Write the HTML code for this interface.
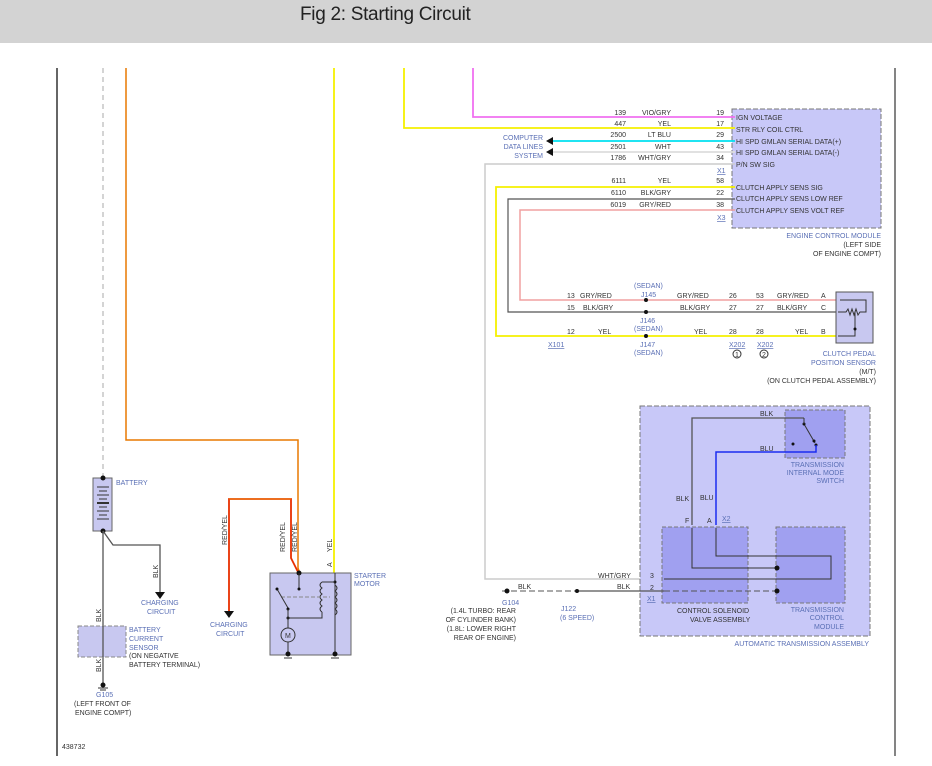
<!DOCTYPE html>
<html><head><meta charset="utf-8"><style>
body{margin:0;width:932px;height:766px;background:#fff;overflow:hidden;font-family:"Liberation Sans",sans-serif}
.hdr{position:absolute;left:0;top:0;width:932px;height:43px;background:#d3d3d3}
.hdr span{position:absolute;left:300px;top:4px;font-size:19px;color:#222;font-family:"Liberation Sans",sans-serif;letter-spacing:-0.3px}
svg{position:absolute;left:0;top:0}
text{font-family:"Liberation Sans",sans-serif;font-size:7px;fill:#333}
.b{fill:#5a6fb5}
</style></head><body>
<div class="hdr"><span>Fig 2: Starting Circuit</span></div>
<svg width="932" height="766" viewBox="0 0 932 766">
<line x1="57" y1="68" x2="57" y2="756" stroke="#000" stroke-width="1.2"/>
<line x1="895" y1="68" x2="895" y2="756" stroke="#333" stroke-width="1.2"/>
<text x="62" y="749" font-size="6.5">438732</text>

<line x1="103" y1="68" x2="103" y2="478" stroke="#aaa" stroke-dasharray="5,4"/>
<polyline points="126,68 126,440 298,440 298,568 300,574" fill="none" stroke="#e87800" stroke-width="1.5"/>
<polyline points="229,611 229,499 291,499 291,558 299,574" fill="none" stroke="#e83000" stroke-width="1.8"/>
<polyline points="229,499 291,499" fill="none" stroke="#f0c000" stroke-width="0.6"/>
<line x1="334" y1="68" x2="334" y2="574" stroke="#f5f000" stroke-width="1.8"/>
<text transform="translate(227,545) rotate(-90)">RED/YEL</text>
<text transform="translate(285,552) rotate(-90)">RED/YEL</text>
<text transform="translate(297,552) rotate(-90)">RED/YEL</text>
<text transform="translate(332,552) rotate(-90)">YEL</text>
<text transform="translate(332,567) rotate(-90)" font-size="6">A</text>
<polygon points="224,611 234,611 229,618" fill="#111"/>
<text x="210" y="627" class="b">CHARGING</text>
<text x="216" y="636" class="b">CIRCUIT</text>

<rect x="93" y="478" width="19" height="53" fill="#c8c8f0" stroke="#666"/>
<circle cx="103" cy="478" r="2.5" fill="#111"/><circle cx="103" cy="531" r="2.5" fill="#111"/>
<g stroke="#333"><line x1="97" y1="487" x2="109" y2="487"/><line x1="99" y1="491" x2="107" y2="491"/><line x1="97" y1="495" x2="109" y2="495"/><line x1="99" y1="499" x2="107" y2="499"/><line x1="97" y1="503" x2="109" y2="503" stroke-width="2"/><line x1="99" y1="507" x2="107" y2="507"/><line x1="97" y1="511" x2="109" y2="511"/><line x1="99" y1="515" x2="107" y2="515"/><line x1="97" y1="519" x2="109" y2="519"/></g>
<text x="116" y="485" class="b">BATTERY</text>
<polyline points="103,531 113,545 160,545 160,592" fill="none" stroke="#555" stroke-width="1.3"/>
<polygon points="155,592 165,592 160,599" fill="#111"/>
<text transform="translate(158,578) rotate(-90)">BLK</text>
<text x="141" y="605" class="b">CHARGING</text>
<text x="147" y="614" class="b">CIRCUIT</text>
<line x1="103" y1="531" x2="103" y2="685" stroke="#555" stroke-width="1.3"/>
<rect x="78" y="626" width="48" height="31" fill="#c8c8f0" stroke="#888" stroke-dasharray="4,2"/>
<line x1="103" y1="626" x2="103" y2="657" stroke="#555" stroke-width="1.3"/>
<text transform="translate(101,622) rotate(-90)">BLK</text>
<text transform="translate(101,672) rotate(-90)">BLK</text>
<text x="129" y="632" class="b">BATTERY</text><text x="129" y="641" class="b">CURRENT</text><text x="129" y="650" class="b">SENSOR</text>
<text x="129" y="658">(ON NEGATIVE</text><text x="129" y="667">BATTERY TERMINAL)</text>
<circle cx="103" cy="685" r="2.5" fill="#111"/><line x1="98" y1="688" x2="108" y2="688" stroke="#333"/><line x1="100" y1="690" x2="106" y2="690" stroke="#333"/>
<text x="96" y="697" class="b">G105</text>
<text x="74" y="706">(LEFT FRONT OF</text><text x="75" y="715">ENGINE COMPT)</text>

<rect x="270" y="573" width="81" height="82" fill="#c8c8f0" stroke="#666"/>
<circle cx="299" cy="573" r="2.5" fill="#111"/>
<line x1="299" y1="573" x2="299" y2="589" stroke="#333"/><circle cx="299" cy="589" r="1.5" fill="#111"/>
<line x1="335" y1="573" x2="335" y2="655" stroke="#333"/><circle cx="335" cy="582" r="1.5" fill="#111"/>
<path d="M335,585 q4,3 0,6 q4,3 0,6 q4,3 0,6 q4,3 0,6 q4,3 0,6" fill="none" stroke="#333"/>
<path d="M322,582 q-4,3 0,6 q-4,3 0,6 q-4,3 0,6 q-4,3 0,6 q-4,3 0,6" fill="none" stroke="#333"/>
<polyline points="322,582 335,582" fill="none" stroke="#333"/>
<polyline points="322,612 322,618 288,618" fill="none" stroke="#333"/>
<line x1="281" y1="597" x2="330" y2="597" stroke="#888" stroke-dasharray="4,2"/>
<line x1="277" y1="589" x2="288" y2="608" stroke="#333"/><circle cx="277" cy="589" r="1.5" fill="#111"/>
<circle cx="288" cy="609" r="1.5" fill="#111"/><circle cx="288" cy="618" r="1.5" fill="#111"/>
<line x1="288" y1="609" x2="288" y2="654" stroke="#333"/>
<circle cx="288" cy="635" r="7" fill="#c8c8f0" stroke="#333"/><text x="285" y="638" font-size="8">M</text>
<circle cx="288" cy="654" r="2.5" fill="#111"/><circle cx="335" cy="654" r="2.5" fill="#111"/>
<line x1="284" y1="658" x2="292" y2="658" stroke="#333"/><line x1="331" y1="658" x2="339" y2="658" stroke="#333"/>
<text x="354" y="578" class="b">STARTER</text><text x="354" y="586" class="b">MOTOR</text>

<rect x="732" y="109" width="149" height="119" fill="#c8c8f8" stroke="#777" stroke-dasharray="5,2"/>
<polyline points="473,68 473,117 735,117" fill="none" stroke="#f070f0" stroke-width="1.8"/>
<polyline points="404,68 404,128 735,128" fill="none" stroke="#f5f000" stroke-width="1.8"/>
<line x1="553" y1="141" x2="735" y2="141" stroke="#00e0f0" stroke-width="1.8"/>
<line x1="553" y1="152" x2="735" y2="152" stroke="#ddd" stroke-width="1.8"/>
<polygon points="546,141 553,137 553,145" fill="#111"/><polygon points="546,152 553,148 553,156" fill="#111"/>
<polyline points="735,164 485,164 485,579 660,579" fill="none" stroke="#ccc" stroke-width="1.5"/>
<polyline points="735,187 496,187 496,336 734,336" fill="none" stroke="#f5f000" stroke-width="1.8"/>
<polyline points="735,199 508,199 508,312 836,312" fill="none" stroke="#555" stroke-width="1.2"/>
<polyline points="735,210 520,210 520,300 836,300" fill="none" stroke="#f0a0a0" stroke-width="1.5"/>
<line x1="734" y1="336" x2="836" y2="336" stroke="#f5f000" stroke-width="1.8"/>
<g text-anchor="end">
<text x="626" y="115">139</text><text x="671" y="115">VIO/GRY</text><text x="724" y="115">19</text>
<text x="626" y="126">447</text><text x="671" y="126">YEL</text><text x="724" y="126">17</text>
<text x="626" y="137">2500</text><text x="671" y="137">LT BLU</text><text x="724" y="137">29</text>
<text x="626" y="149">2501</text><text x="671" y="149">WHT</text><text x="724" y="149">43</text>
<text x="626" y="160">1786</text><text x="671" y="160">WHT/GRY</text><text x="724" y="160">34</text>
<text x="626" y="183">6111</text><text x="671" y="183">YEL</text><text x="724" y="183">58</text>
<text x="626" y="195">6110</text><text x="671" y="195">BLK/GRY</text><text x="724" y="195">22</text>
<text x="626" y="207">6019</text><text x="671" y="207">GRY/RED</text><text x="724" y="207">38</text>
<text x="543" y="140" class="b">COMPUTER</text><text x="543" y="149" class="b">DATA LINES</text><text x="543" y="158" class="b">SYSTEM</text>
<text x="881" y="238" class="b">ENGINE CONTROL MODULE</text><text x="881" y="247">(LEFT SIDE</text><text x="881" y="256">OF ENGINE COMPT)</text>
<text x="876" y="356" class="b">CLUTCH PEDAL</text><text x="876" y="365" class="b">POSITION SENSOR</text><text x="876" y="374">(M/T)</text><text x="876" y="383">(ON CLUTCH PEDAL ASSEMBLY)</text>
</g>
<text x="717" y="173" class="b" text-decoration="underline">X1</text>
<text x="717" y="220" class="b" text-decoration="underline">X3</text>
<g font-size="6.5">
<text x="736" y="120">IGN VOLTAGE</text><text x="736" y="132">STR RLY COIL CTRL</text>
<text x="736" y="144">HI SPD GMLAN SERIAL DATA(+)</text><text x="736" y="155">HI SPD GMLAN SERIAL DATA(-)</text>
<text x="736" y="167">P/N SW SIG</text><text x="736" y="190">CLUTCH APPLY SENS SIG</text>
<text x="736" y="201">CLUTCH APPLY SENS LOW REF</text><text x="736" y="213">CLUTCH APPLY SENS VOLT REF</text>
</g>

<rect x="836" y="292" width="37" height="51" fill="#c8c8f0" stroke="#555"/>
<polyline points="840,300 866,300 866,312 862,312" fill="none" stroke="#333"/>
<path d="M838,312 l8,0 l2,-3 l2,6 l2,-6 l2,6 l2,-6 l2,6 l2,-3 l4,0" fill="none" stroke="#333"/>
<polyline points="855,312 855,336 838,336" fill="none" stroke="#333"/><circle cx="855" cy="329" r="1.5" fill="#111"/>
<text x="567" y="298">13</text><text x="580" y="298">GRY/RED</text><text x="677" y="298">GRY/RED</text><text x="729" y="298">26</text><text x="756" y="298">53</text><text x="777" y="298">GRY/RED</text><text x="821" y="298">A</text>
<text x="567" y="310">15</text><text x="583" y="310">BLK/GRY</text><text x="680" y="310">BLK/GRY</text><text x="729" y="310">27</text><text x="756" y="310">27</text><text x="777" y="310">BLK/GRY</text><text x="821" y="310">C</text>
<text x="567" y="334">12</text><text x="598" y="334">YEL</text><text x="694" y="334">YEL</text><text x="729" y="334">28</text><text x="756" y="334">28</text><text x="795" y="334">YEL</text><text x="821" y="334">B</text>
<text x="634" y="288" class="b">(SEDAN)</text><text x="641" y="297" class="b">J145</text>
<text x="640" y="323" class="b">J146</text><text x="634" y="331" class="b">(SEDAN)</text>
<text x="640" y="347" class="b">J147</text><text x="634" y="355" class="b">(SEDAN)</text>
<circle cx="646" cy="300" r="2" fill="#111"/><circle cx="646" cy="312" r="2" fill="#111"/><circle cx="646" cy="336" r="2" fill="#111"/>
<text x="548" y="347" class="b" text-decoration="underline">X101</text>
<text x="729" y="347" class="b" text-decoration="underline">X202</text>
<text x="757" y="347" class="b" text-decoration="underline">X202</text>
<circle cx="737" cy="354" r="4" fill="none" stroke="#333"/><text x="735" y="357" font-size="6">1</text>
<circle cx="764" cy="354" r="4" fill="none" stroke="#333"/><text x="762" y="357" font-size="6">2</text>

<rect x="640" y="406" width="230" height="230" fill="#c8c8f8" stroke="#777" stroke-dasharray="5,2"/>
<rect x="785" y="410" width="60" height="48" fill="#a0a0f0" stroke="#777" stroke-dasharray="4,2"/>
<rect x="662" y="527" width="86" height="76" fill="#a0a0f0" stroke="#777" stroke-dasharray="4,2"/>
<rect x="776" y="527" width="69" height="76" fill="#a0a0f0" stroke="#777" stroke-dasharray="4,2"/>
<polyline points="692,525 692,418 804,418" fill="none" stroke="#555" stroke-width="1.3"/>
<polyline points="804,424 815,443" fill="none" stroke="#333"/><circle cx="804" cy="424" r="1.5" fill="#111"/><circle cx="814" cy="441" r="1.5" fill="#111"/><circle cx="793" cy="444" r="1.5" fill="#111"/><circle cx="816" cy="445" r="1.5" fill="#111"/>
<polyline points="804,418 804,424" stroke="#333"/>
<polyline points="716,525 716,452 816,452 816,445" fill="none" stroke="#1a2cf0" stroke-width="1.5"/>
<polyline points="692,528 692,568 778,568" fill="none" stroke="#333"/>
<polyline points="716,528 716,556 831,556 831,579 664,579" fill="none" stroke="#333"/>
<polyline points="502,591 778,591" fill="none" stroke="#555" stroke-dasharray="6,3"/>
<line x1="577" y1="591" x2="664" y2="591" stroke="#555" stroke-width="1.2"/>
<circle cx="507" cy="591" r="2.5" fill="#111"/><circle cx="577" cy="591" r="2" fill="#111"/>
<circle cx="777" cy="568" r="2.5" fill="#111"/><circle cx="777" cy="591" r="2.5" fill="#111"/>
<text x="760" y="416">BLK</text>
<text x="760" y="451">BLU</text>
<text x="676" y="501">BLK</text><text x="700" y="500">BLU</text>
<text x="685" y="523">F</text><text x="707" y="523">A</text><text x="722" y="521" class="b" text-decoration="underline">X2</text>
<text x="598" y="578">WHT/GRY</text><text x="650" y="578">3</text>
<text x="518" y="589">BLK</text><text x="617" y="589">BLK</text><text x="650" y="590">2</text>
<text x="647" y="601" class="b" text-decoration="underline">X1</text>
<text x="502" y="605" class="b">G104</text>
<g text-anchor="end"><text x="516" y="613">(1.4L TURBO: REAR</text><text x="516" y="622">OF CYLINDER BANK)</text><text x="516" y="631">(1.8L: LOWER RIGHT</text><text x="516" y="640">REAR OF ENGINE)</text>
<text x="844" y="467" class="b">TRANSMISSION</text><text x="844" y="475" class="b">INTERNAL MODE</text><text x="844" y="483" class="b">SWITCH</text>
<text x="844" y="612" class="b">TRANSMISSION</text><text x="844" y="620" class="b">CONTROL</text><text x="844" y="629" class="b">MODULE</text>
<text x="869" y="646" class="b">AUTOMATIC TRANSMISSION ASSEMBLY</text></g>
<text x="561" y="611" class="b">J122</text><text x="560" y="620" class="b">(6 SPEED)</text>
<text x="677" y="613">CONTROL SOLENOID</text><text x="690" y="622">VALVE ASSEMBLY</text>
</svg>
</body></html>
